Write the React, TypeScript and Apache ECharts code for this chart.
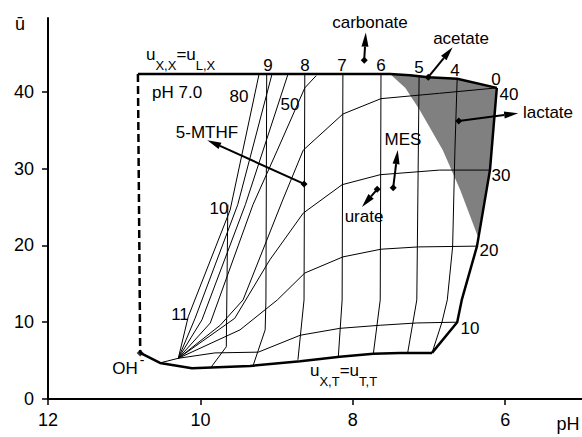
import React, { useEffect, useRef } from 'react';
import * as echarts from 'echarts';

// ---- axis ----
const X_MIN = 4;
const X_MAX = 12;
const Y_MAX = 49.6;

// ---- boundaries (pH, ū) ----
const upperBoundary = [[10.82, 42.3], [7.51, 42.3], [7.25, 42.15], [7.01, 41.9], [6.63, 41.7], [6.11, 40.5]];
const rightBoundary = [[6.11, 40.5], [6.2, 29.8], [6.37, 19.9], [6.57, 12.9], [6.63, 10.0], [6.96, 6.0]];
const lowerBoundary = [[10.79, 6.0], [10.53, 4.7], [10.11, 4.0], [9.35, 4.3], [8.69, 4.9], [8.17, 5.5], [7.73, 5.9], [7.38, 6.0], [6.96, 6.0]];
const dashedEdge = [[10.82, 42.3], [10.79, 6.0]];
const greyRegion = [[7.51, 42.3], [7.31, 40.5], [7.12, 37.6], [6.82, 32.4], [6.59, 27.2], [6.36, 21.2], [6.2, 29.8], [6.11, 40.5], [6.63, 41.7], [7.01, 41.9], [7.25, 42.15]];

// ---- iso lines labelled at top (roughly vertical) ----
const v10 = [[9.64, 25.3], [9.66, 6.8], [9.87, 4.0]];
const v9 = [[9.13, 42.3], [9.14, 12.9], [9.15, 9.0], [9.31, 4.3]];
const v8 = [[8.63, 42.3], [8.64, 12.9], [8.72, 5.1]];
const v7 = [[8.13, 42.3], [8.14, 12.9], [8.19, 5.5]];
const v6 = [[7.63, 42.3], [7.64, 12.9], [7.73, 5.9]];
const v5 = [[7.13, 42.1], [7.16, 12.9], [7.28, 6.0]];
const v4 = [[6.63, 41.8], [6.66, 32.4], [6.69, 19.8], [6.76, 12.9], [6.83, 10.0], [6.96, 6.0]];

// ---- iso lines labelled at right (from the fan point) ----
const h10 = [[10.29, 5.3], [9.81, 6.0], [9.24, 6.1], [8.69, 8.3], [8.17, 9.2], [7.64, 9.6], [7.16, 9.9], [6.63, 10.0]];
const h20 = [[10.29, 5.3], [9.48, 9.0], [8.99, 12.9], [8.63, 16.4], [8.13, 18.5], [7.63, 19.5], [7.14, 19.8], [6.37, 19.9]];
const h30 = [[10.29, 5.3], [9.55, 10.5], [9.09, 18.1], [8.65, 24.2], [8.14, 27.9], [7.64, 29.2], [6.86, 29.8], [6.2, 29.8]];
const h40 = [[10.29, 5.3], [9.74, 9.6], [9.44, 12.9], [8.92, 25.9], [8.65, 32.4], [8.13, 37.1], [7.63, 39.1], [6.86, 39.8], [6.11, 40.5]];
const f1 = [[10.29, 5.3], [10.16, 10.7], [9.61, 24.6], [9.23, 42.3]];
const f2 = [[10.29, 5.3], [10.07, 10.5], [9.51, 25.3], [9.06, 42.3]];
const f3 = [[10.29, 5.3], [9.98, 10.3], [9.41, 25.3], [8.85, 42.3]];
const f4 = [[10.29, 5.3], [9.87, 9.9], [9.31, 25.3], [8.99, 32.4], [8.63, 40.5], [8.48, 42.1]];
const stub = [[10.53, 4.7], [10.29, 5.3]];

// ---- annotation arrows: [pH dot, ū dot, pH tip, ū tip] ----
const arrows = [
  [7.85, 44.1, 7.83, 47.7], // carbonate
  [7.01, 41.9, 6.69, 45.8], // acetate
  [6.61, 36.2, 5.83, 37.2], // lactate
  [7.47, 27.5, 7.41, 32.4], // MES
  [7.68, 27.3, 7.88, 25.0], // urate
  [8.64, 28.0, 9.91, 33.7], // 5-MTHF
];

const FONT = '"Liberation Sans", Arial, sans-serif';

function txt(text: string, x: number, y: number, size = 17, align = 'center') {
  return {
    type: 'text',
    x,
    y,
    silent: true,
    style: {
      text,
      fontSize: size,
      fontFamily: FONT,
      fill: '#000',
      align,
      verticalAlign: 'middle',
      textAlign: align,
      textVerticalAlign: 'middle',
    },
  };
}

function subTxt(parts: string[], x: number, y: number) {
  const text = `{m|${parts[0]}}{s|${parts[1]}}{m|${parts[2]}}{s|${parts[3]}}`;
  return {
    type: 'text',
    x,
    y,
    silent: true,
    style: {
      text,
      fontFamily: FONT,
      fill: '#000',
      align: 'left',
      verticalAlign: 'top',
      rich: {
        m: { fontSize: 17, fontFamily: FONT, lineHeight: 26, verticalAlign: 'top', fill: '#000' },
        s: { fontSize: 13, fontFamily: FONT, lineHeight: 26, verticalAlign: 'bottom', fill: '#000' },
      },
    },
  };
}

function lineS(data: number[][], width = 1, dashed = false, z = 3) {
  return {
    type: 'line',
    data,
    showSymbol: false,
    symbol: 'none',
    silent: true,
    z,
    lineStyle: { color: '#000', width, type: dashed ? [8, 4] : 'solid' },
  };
}

export default function App() {
  const ref = useRef<HTMLDivElement>(null);
  useEffect(() => {
    document.body.style.margin = '0';
    const chart = echarts.init(ref.current!, null, { renderer: 'svg' });
    const thin = [v10, v9, v8, v7, v6, v5, v4, h10, h20, h30, h40, f1, f2, f3, f4, stub];
    chart.setOption({
      animation: false,
      backgroundColor: '#fff',
      grid: { left: 48, top: 18, width: 609.6, height: 381, containLabel: false, outerBoundsMode: 'none' },
      xAxis: {
        type: 'value',
        min: X_MIN,
        max: X_MAX,
        interval: 2,
        inverse: true,
        splitLine: { show: false },
        axisLine: { lineStyle: { color: '#000', width: 2 } },
        axisTick: { length: 6, lineStyle: { color: '#000', width: 1.5 } },
        axisLabel: {
          color: '#000',
          fontSize: 18,
          fontFamily: FONT,
          margin: 12,
          formatter: (v: number) => (v === X_MIN ? '' : String(v)),
        },
      },
      yAxis: {
        type: 'value',
        min: 0,
        max: Y_MAX,
        interval: 10,
        splitLine: { show: false },
        axisLine: { lineStyle: { color: '#000', width: 2 } },
        axisTick: { length: 6, lineStyle: { color: '#000', width: 1.5 } },
        axisLabel: {
          color: '#000',
          fontSize: 18,
          fontFamily: FONT,
          margin: 14,
          showMaxLabel: false,
          formatter: (v: number) => (v % 10 === 0 ? String(v) : ''),
        },
      },
      series: [
        {
          type: 'custom',
          silent: true,
          z: 1,
          data: [[greyRegion[0][0], greyRegion[0][1]]],
          renderItem: (_p: any, api: any) => ({
            type: 'polygon',
            shape: { points: greyRegion.map((p) => api.coord(p)) },
            style: { fill: '#808080', stroke: 'none' },
          }),
        },
        ...thin.map((d) => lineS(d, 1, false, 3)),
        lineS(upperBoundary, 2.5, false, 4),
        lineS(rightBoundary, 2.5, false, 4),
        lineS(lowerBoundary, 2.5, false, 4),
        lineS(dashedEdge, 2.5, true, 4),
        {
          type: 'custom',
          silent: true,
          z: 5,
          data: arrows,
          encode: { x: [0, 2], y: [1, 3] },
          renderItem: (_p: any, api: any) => {
            const p1 = api.coord([api.value(0), api.value(1)]);
            const p2 = api.coord([api.value(2), api.value(3)]);
            const dx = p2[0] - p1[0];
            const dy = p2[1] - p1[1];
            const len = Math.hypot(dx, dy) || 1;
            const ux = dx / len;
            const uy = dy / len;
            const hl = 14;
            const hw = 3.5;
            const bx = p2[0] - ux * hl;
            const by = p2[1] - uy * hl;
            const nx = -uy;
            const ny = ux;
            const d = 3.5;
            return {
              type: 'group',
              children: [
                { type: 'line', shape: { x1: p1[0], y1: p1[1], x2: bx, y2: by }, style: { stroke: '#000', lineWidth: 2 } },
                {
                  type: 'polygon',
                  shape: { points: [p2, [bx + nx * hw, by + ny * hw], [bx - nx * hw, by - ny * hw]] },
                  style: { fill: '#000' },
                },
                {
                  type: 'polygon',
                  shape: { points: [[p1[0], p1[1] - d], [p1[0] + d, p1[1]], [p1[0], p1[1] + d], [p1[0] - d, p1[1]]] },
                  style: { fill: '#000' },
                },
              ],
            };
          },
        },
        {
          type: 'scatter',
          silent: true,
          z: 5,
          symbol: 'diamond',
          symbolSize: 7,
          itemStyle: { color: '#000' },
          data: [[dashedEdge[1][0], dashedEdge[1][1]]],
        },
      ],
      graphic: [
        txt('ū', 20, 24, 18),
        txt('pH', 568, 424, 18),
        subTxt(['u', 'X,X', '=u', 'L,X'], 146, 46),
        subTxt(['u', 'X,T', '=u', 'T,T'], 310, 362),
        txt('pH 7.0', 152, 92, 17, 'left'),
        txt('9', 268, 65),
        txt('8', 305, 65),
        txt('7', 342, 65),
        txt('6', 381, 65),
        txt('5', 419, 67),
        txt('4', 455, 70),
        txt('0', 496, 79),
        txt('40', 509, 94),
        txt('30', 501, 175),
        txt('20', 489, 250),
        txt('10', 470, 328),
        txt('80', 239, 96),
        txt('50', 290, 104),
        txt('10', 219, 208),
        txt('11', 180, 314),
        txt('carbonate', 370, 22),
        txt('acetate', 461, 38),
        txt('lactate', 548, 112),
        txt('MES', 403, 139),
        txt('urate', 364, 216),
        txt('5-MTHF', 207, 132),
        txt('OH', 125, 368),
        txt('-', 142, 360, 14),
      ],
    });
    return () => chart.dispose();
  }, []);
  return <div ref={ref} style={{ position: 'fixed', left: 0, top: 0, width: 582, height: 437 }} />;
}
